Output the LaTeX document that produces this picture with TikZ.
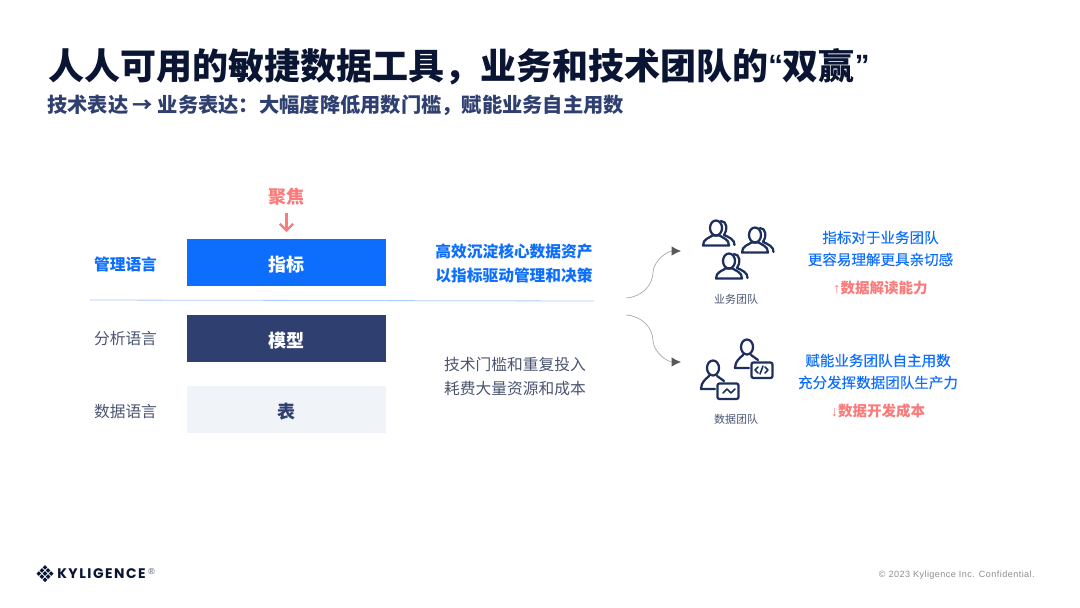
\documentclass[tikz,border=0pt]{standalone}
\usepackage{fontspec}
\setmainfont{Noto Sans CJK SC}
\newfontfamily\latinfont{Liberation Sans}
\newfontfamily\brandfont[LetterSpace=11]{Poppins}
\newfontfamily\legalfont[LetterSpace=5]{Liberation Sans}
\newfontfamily\medfont[FakeBold=0.2]{Noto Sans CJK SC}
\newcommand{\titlequote}[1]{\raisebox{2.5pt}{\latinfont\fontsize{22}{30}\selectfont #1}}
\usetikzlibrary{arrows.meta}
\definecolor{inkdark}{HTML}{0A1433}
\definecolor{navy}{HTML}{2E3F70}
\definecolor{iconnavy}{HTML}{1C2F5E}
\definecolor{brandblue}{HTML}{0D6EFD}
\definecolor{paleblock}{HTML}{F0F3F8}
\definecolor{coral}{HTML}{FB7A7A}
\definecolor{greytext}{HTML}{4A5470}
\newlength{\pxu}
\setlength{\pxu}{0.75pt}
\tikzset{
  label/.style={font=\fontsize{11.8}{18}\selectfont,align=center,inner sep=0pt},
  sidetext/.style={font=\medfont\fontsize{10.9}{16.5}\selectfont,align=center,inner sep=0pt,text=brandblue},
  gaintext/.style={font=\fontsize{10.9}{14}\selectfont\bfseries,inner sep=0pt,text=coral},
  teamname/.style={inner sep=0pt,text=greytext,font=\fontsize{8.25}{10}\selectfont},
  block/.style={minimum width=199\pxu,minimum height=47\pxu,inner sep=0pt,text height=14.5pt,text depth=1.6pt,font=\fontsize{13.5}{16}\selectfont\bfseries},
  icon/.style={draw=iconnavy,line width=1.7pt,line join=round,line cap=round},
  flow/.style={draw=black!35,line width=0.5pt,-{Latex[length=7pt,width=7pt,color=black!65]}},
  usericon/.pic={
    \draw[icon] (0,-9) ellipse (6 and 7.5);
    \draw[icon] (-13,8.5) .. controls (-13,2) and (-7,1) .. (-3.5,-1.5) -- (3.5,-1.5) .. controls (7,1) and (13,2) .. (13,8.5) -- cycle;
    \draw[icon] (5,-16) .. controls (11,-16) and (12,-7) .. (8,-2) .. controls (13,0) and (19,3) .. (18.5,8);
  },
  coder/.pic={
    \draw[icon] (0,-9) ellipse (6 and 7.5);
    \draw[icon] (2,12) -- (-12,12) .. controls (-12,5) and (-7,2) .. (-4,-1);
    \draw[icon] (4,-1) .. controls (6,1) and (9,2) .. (11,4);
    \draw[icon,rounded corners=1.5pt] (4.5,6.5) rectangle (25.5,22);
  }
}
\begin{document}
\begin{tikzpicture}[x=0.75pt,y=-0.75pt]
\useasboundingbox (0,0) rectangle (1080,607);

% title
\node[anchor=west,inner sep=0pt,text=inkdark,font=\fontsize{27}{30}\selectfont\bfseries] (title) at (48,66.5)
{人人可用的敏捷数据工具，业务和技术团队的\titlequote{“}双赢\titlequote{”}};
\node[anchor=west,inner sep=0pt,text=navy,font=\fontsize{15.2}{18}\selectfont\bfseries] (subtitle) at (47,105)
{技术表达 → 业务表达：大幅度降低用数门槛，赋能业务自主用数};

% left blocks
\node[block,fill=brandblue,text=white] (metric) at (286.5,262.5) {指标};
\node[block,fill=navy,text=white] (model) at (286.5,338.5) {模型};
\node[block,fill=paleblock,text=navy] (sheet) at (286.5,409.5) {表};
\node[label,text=brandblue,font=\fontsize{11.8}{18}\selectfont\bfseries] (mgmt) at (125.5,264.5) {管理语言};
\node[label,text=greytext] (analysis) at (125.5,338.5) {分析语言};
\node[label,text=greytext] (datalang) at (125.5,412) {数据语言};

\node[inner sep=0pt,text=coral,font=\fontsize{13.5}{16}\selectfont\bfseries] (focus) at (286.5,197) {聚焦};
\coordinate (focustop) at (286.5,212.5);
\coordinate (focustip) at (286.5,232);
\draw[coral,line width=1.6pt,-{Straight Barb[length=5pt,width=10pt]}] (focustop) -- (focustip);

\coordinate (ruleleft) at (90,300);
\coordinate (ruleright) at (594,301);
\draw[brandblue!35,line width=0.6pt] (ruleleft) -- (ruleright);

% middle text
\node[label,text=brandblue,font=\fontsize{11.8}{18}\selectfont\bfseries] (assets) at (514,263.5)
{高效沉淀核心数据资产\\以指标驱动管理和决策};
\node[label,text=greytext] (cost) at (515,376.5)
{技术门槛和重复投入\\耗费大量资源和成本};

% teams
\pic at (716,237) {usericon};
\pic at (755,244) {usericon};
\pic at (729,270) {usericon};
\node[teamname] (bizteam) at (736,299.5) {业务团队};
\pic at (747,356) {coder};
\pic at (713,377) {coder};
\draw[icon,line width=1.2pt] (758,367) -- (755,370) -- (758,373);
\draw[icon,line width=1.2pt] (765,367) -- (768,370) -- (765,373);
\draw[icon,line width=1.2pt] (763,366) -- (760,374);
\draw[icon,line width=1.2pt] (723,393) -- (727,389) -- (731,393) -- (735,389);
\node[teamname] (datateam) at (736,419.5) {数据团队};

\coordinate (splittop) at (626,298);
\coordinate (splitbottom) at (626,315);
\coordinate (bizicon) at (681,251);
\coordinate (dataicon) at (681,362);
\draw[flow] (splittop) .. controls (642,297) and (653,285) .. (653,272) .. controls (654,260) and (668,251) .. (bizicon);
\draw[flow] (splitbottom) .. controls (642,316) and (653,328) .. (653,341) .. controls (654,353) and (668,362) .. (dataicon);

% right text
\node[sidetext] (bizgain) at (880.5,248.5)
{指标对于业务团队\\更容易理解更具亲切感};
\node[gaintext] (bizup) at (880.5,288) {{\latinfont ↑}数据解读能力};
\node[sidetext] (datagain) at (878,371.5)
{赋能业务团队自主用数\\充分发挥数据团队生产力};
\node[gaintext] (datadown) at (878,411) {{\latinfont ↓}数据开发成本};

% footer
\foreach \i/\j in {0/0,1/0,2/0,0/1,1/1,2/1,0/2,1/2,2/2}
{
\fill[inkdark,shift={(45+3.1*\i-3.1*\j,567.3+3.1*\i+3.1*\j)}] (0,-2.3) -- (2.3,0) -- (0,2.3) -- (-2.3,0) -- cycle;
}
\node[anchor=west,inner sep=0pt,text=inkdark,font=\brandfont\fontsize{10.4}{12}\selectfont\bfseries] (brand) at (57,574) {KYLIGENCE};
\node[anchor=west,inner sep=0pt,text=greytext,font=\latinfont\fontsize{6.5}{7}\selectfont] (regmark) at (148,571.5) {®};
\node[anchor=east,inner sep=0pt,text=black!45,font=\legalfont\fontsize{6.8}{8}\selectfont] (legal) at (1035,575) {© 2023 Kyligence Inc. Confidential.};
\end{tikzpicture}
\end{document}
